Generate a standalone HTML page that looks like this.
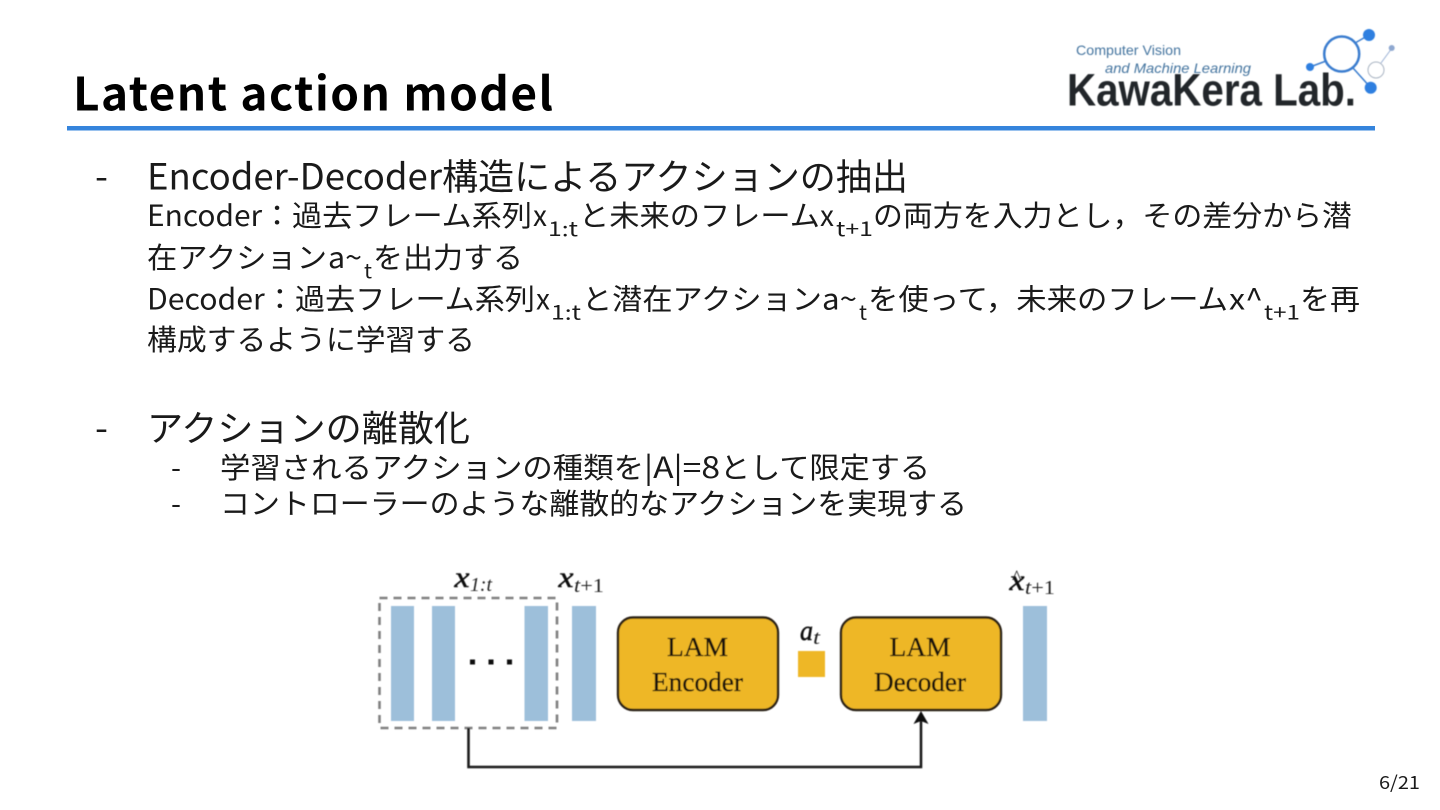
<!DOCTYPE html>
<html lang="ja">
<head>
<meta charset="utf-8">
<title>Latent action model</title>
<style>
html,body{margin:0;padding:0;background:#fff;width:1440px;height:810px;overflow:hidden}
svg{display:block}
text{font-family:"Noto Sans CJK JP","Liberation Sans",sans-serif;fill:#1a1a1a}
.m{font-size:30px}
.h{font-size:36px}
.s{font-size:29px}
.u{font-size:20px}
.serif{font-family:"Liberation Serif",serif;fill:#1a1208;stroke:#1a1208;stroke-width:.35px}
.mi{font-family:"Liberation Serif",serif;font-style:italic;fill:#111;stroke:#111;stroke-width:.5px}
.sb{font-family:"Liberation Serif",serif;fill:#222}
.logo{font-family:"Liberation Sans",sans-serif}
</style>
</head>
<body>
<svg width="1440" height="810" viewBox="0 0 1440 810" xmlns="http://www.w3.org/2000/svg">
<defs>
<filter id="b" x="-5%" y="-5%" width="110%" height="110%"><feGaussianBlur stdDeviation="0.45"/></filter>
</defs>
<rect width="1440" height="810" fill="#fff"/>

<text x="73" y="110.5" font-size="46" font-weight="700" textLength="480" lengthAdjust="spacing" style="fill:#000">Latent action model</text>
<rect x="67" y="126" width="1308" height="4.5" fill="#3584dc"/>

<!-- logo -->
<g filter="url(#b)">
<text class="logo" x="1076" y="55" font-size="14" textLength="105" lengthAdjust="spacingAndGlyphs" style="fill:#44749f">Computer Vision</text>
<text class="logo" x="1105" y="73" font-size="14" font-style="italic" textLength="146" lengthAdjust="spacingAndGlyphs" style="fill:#44749f">and Machine Learning</text>
<text class="logo" x="1067" y="105.5" font-size="45" font-weight="700" textLength="289" lengthAdjust="spacingAndGlyphs" style="fill:#23272c">KawaKera Lab.</text>
<g fill="none">
<line x1="1310" y1="67" x2="1326" y2="61" stroke="#3a7dcf" stroke-width="1.5"/>
<line x1="1369" y1="35" x2="1355" y2="43" stroke="#3a7dcf" stroke-width="1.5"/>
<line x1="1353" y1="68" x2="1371" y2="88" stroke="#3a7dcf" stroke-width="1.5"/>
<line x1="1381" y1="63" x2="1392" y2="48" stroke="#9ab0d4" stroke-width="1"/>
<circle cx="1341.7" cy="54" r="17.5" stroke="#3a7dcf" stroke-width="2.5"/>
<circle cx="1376" cy="70" r="8" stroke="#a9b4c2" stroke-width="1"/>
</g>
<circle cx="1369" cy="35" r="6" fill="#2f7fe0"/>
<circle cx="1310" cy="67" r="4" fill="#2f7fe0"/>
<circle cx="1370.7" cy="87.7" r="6" fill="#2f7fe0"/>
<circle cx="1391.7" cy="48" r="3" fill="#8fa8d0"/>
</g>

<!-- body -->
<text class="h" x="95" y="189.5" textLength="13" lengthAdjust="spacingAndGlyphs">-</text>
<text class="h" x="147" y="189.5" textLength="295" lengthAdjust="spacingAndGlyphs">Encoder-Decoder</text>
<text class="h" x="442" y="189.5" textLength="466" lengthAdjust="spacingAndGlyphs">構造によるアクションの抽出</text>

<text class="s" x="147" y="226" textLength="145" lengthAdjust="spacingAndGlyphs">Encoder：</text>
<text class="s" x="292" y="226" textLength="240" lengthAdjust="spacingAndGlyphs">過去フレーム系列</text>
<text class="s" x="533" y="226" textLength="14" lengthAdjust="spacingAndGlyphs">x</text>
<text class="u" x="548" y="236" textLength="30" lengthAdjust="spacingAndGlyphs">1:t</text>
<text class="s" x="579" y="226" textLength="241" lengthAdjust="spacingAndGlyphs">と未来のフレーム</text>
<text class="s" x="820" y="226" textLength="14" lengthAdjust="spacingAndGlyphs">x</text>
<text class="u" x="836" y="236" textLength="37" lengthAdjust="spacingAndGlyphs">t+1</text>
<text class="s" x="873" y="226" textLength="479" lengthAdjust="spacingAndGlyphs">の両方を入力とし，その差分から潜</text>

<text class="s" x="147" y="268" textLength="180" lengthAdjust="spacingAndGlyphs">在アクション</text>
<text class="s" x="328" y="268" textLength="34" lengthAdjust="spacingAndGlyphs">a~</text>
<text class="u" x="364" y="278" textLength="8" lengthAdjust="spacingAndGlyphs">t</text>
<text class="s" x="373" y="268" textLength="150" lengthAdjust="spacingAndGlyphs">を出力する</text>

<text class="s" x="147" y="309.5" textLength="148" lengthAdjust="spacingAndGlyphs">Decoder：</text>
<text class="s" x="295" y="309.5" textLength="240" lengthAdjust="spacingAndGlyphs">過去フレーム系列</text>
<text class="s" x="536" y="309.5" textLength="14" lengthAdjust="spacingAndGlyphs">x</text>
<text class="u" x="551" y="319.5" textLength="30" lengthAdjust="spacingAndGlyphs">1:t</text>
<text class="s" x="582" y="309.5" textLength="240" lengthAdjust="spacingAndGlyphs">と潜在アクション</text>
<text class="s" x="822" y="309.5" textLength="35" lengthAdjust="spacingAndGlyphs">a~</text>
<text class="u" x="859" y="319.5" textLength="8" lengthAdjust="spacingAndGlyphs">t</text>
<text class="s" x="868" y="309.5" textLength="360" lengthAdjust="spacingAndGlyphs">を使って，未来のフレーム</text>
<text class="s" x="1229" y="309.5" textLength="34" lengthAdjust="spacingAndGlyphs">x^</text>
<text class="u" x="1264" y="319.5" textLength="36" lengthAdjust="spacingAndGlyphs">t+1</text>
<text class="s" x="1300" y="309.5" textLength="60" lengthAdjust="spacingAndGlyphs">を再</text>

<text class="s" x="147" y="350" textLength="328" lengthAdjust="spacingAndGlyphs">構成するように学習する</text>

<text class="h" x="95" y="441" textLength="13" lengthAdjust="spacingAndGlyphs">-</text>
<text class="h" x="147" y="441" textLength="323" lengthAdjust="spacingAndGlyphs">アクションの離散化</text>

<text class="s" x="171" y="478" textLength="10" lengthAdjust="spacingAndGlyphs">-</text>
<text class="s" x="220" y="478" textLength="424" lengthAdjust="spacingAndGlyphs">学習されるアクションの種類を</text>
<text class="s" x="644" y="478" textLength="76" lengthAdjust="spacingAndGlyphs">|A|=8</text>
<text class="s" x="720" y="478" textLength="210" lengthAdjust="spacingAndGlyphs">として限定する</text>

<text class="s" x="171" y="514" textLength="10" lengthAdjust="spacingAndGlyphs">-</text>
<text class="s" x="220" y="514" textLength="747" lengthAdjust="spacingAndGlyphs">コントローラーのような離散的なアクションを実現する</text>

<!-- diagram -->
<g filter="url(#b)">
<rect x="391" y="606" width="23" height="115" fill="#9dbfda"/>
<rect x="432" y="606" width="23" height="115" fill="#9dbfda"/>
<rect x="524.5" y="606" width="23.5" height="115" fill="#9dbfda"/>
<rect x="572" y="606" width="24" height="115" fill="#9dbfda"/>
<rect x="1023" y="606" width="24" height="115" fill="#9dbfda"/>
<rect x="379.5" y="598" width="177.5" height="130" fill="none" stroke="#808080" stroke-width="2.6" stroke-dasharray="8 6"/>
<rect x="470" y="659.5" width="5" height="5" fill="#111"/>
<rect x="488.5" y="659.5" width="5" height="5" fill="#111"/>
<rect x="507" y="659.5" width="5" height="5" fill="#111"/>
<rect x="618" y="617.5" width="160" height="92.5" rx="15" fill="#eeb726" stroke="#2b2118" stroke-width="2.4"/>
<rect x="841" y="617.5" width="160" height="92.5" rx="15" fill="#eeb726" stroke="#2b2118" stroke-width="2.4"/>
<rect x="798" y="651" width="27" height="26" fill="#eeb726"/>
<path d="M468.5 728V767H921V720" fill="none" stroke="#1c1c1c" stroke-width="2.6"/>
<path d="M921 711L928.5 724L921 721L913.5 724Z" fill="#111"/>
<text class="serif" x="667" y="656" font-size="27" textLength="61" lengthAdjust="spacingAndGlyphs">LAM</text>
<text class="serif" x="652" y="691" font-size="27" textLength="91" lengthAdjust="spacingAndGlyphs">Encoder</text>
<text class="serif" x="889.5" y="656" font-size="27" textLength="61" lengthAdjust="spacingAndGlyphs">LAM</text>
<text class="serif" x="874" y="691" font-size="27" textLength="92" lengthAdjust="spacingAndGlyphs">Decoder</text>
<text class="mi" x="454.5" y="587" font-size="30" textLength="15" lengthAdjust="spacingAndGlyphs">x</text>
<text class="sb" x="470" y="591" font-size="20" font-style="italic" textLength="22" lengthAdjust="spacingAndGlyphs">1:t</text>
<text class="mi" x="558.5" y="587" font-size="30" textLength="15" lengthAdjust="spacingAndGlyphs">x</text>
<text class="sb" x="574" y="592" font-size="20" textLength="30" lengthAdjust="spacingAndGlyphs"><tspan font-style="italic">t</tspan>+1</text>
<text class="mi" x="800" y="640" font-size="28" textLength="13" lengthAdjust="spacingAndGlyphs">a</text>
<text class="sb" x="813" y="644" font-size="20" font-style="italic" textLength="7" lengthAdjust="spacingAndGlyphs">t</text>
<text class="mi" x="1009.5" y="590" font-size="30" textLength="15" lengthAdjust="spacingAndGlyphs">x</text>
<text class="sb" x="1012" y="584" font-size="20">^</text>
<text class="sb" x="1025" y="594" font-size="20" textLength="30" lengthAdjust="spacingAndGlyphs"><tspan font-style="italic">t</tspan>+1</text>
</g>

<text x="1379" y="789" font-size="18" textLength="41" lengthAdjust="spacingAndGlyphs">6/21</text>
</svg>
</body>
</html>
